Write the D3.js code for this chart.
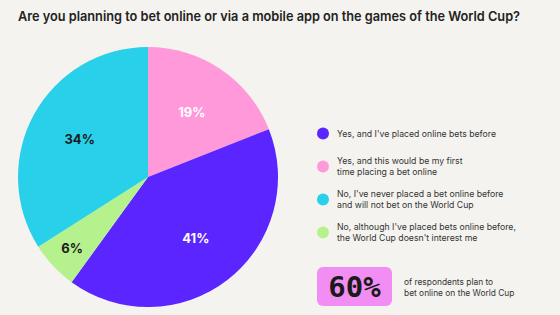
<!DOCTYPE html>
<html>
<head>
<meta charset="utf-8">
<script src="https://cdn.jsdelivr.net/npm/d3@7"></script>
<style>
  html, body { margin: 0; padding: 0; background: #f5f3ef; }
  svg { display: block; font-family: Inter, "Open Sans", sans-serif; }
</style>
</head>
<body>
<div id="chart"></div>
<script>
// data
const answers = [
  "Yes, and I've placed online bets before",
  "Yes, and this would be my first|time placing a bet online",
  "No, I've never placed a bet online before|and will not bet on the World Cup",
  "No, although I've placed bets online before,|the World Cup doesn't interest me",
];
const shares = [41, 19, 34, 6];
const pieOrder = [1, 0, 3, 2]; // clockwise from 12 o'clock: 19, 41, 6, 34
const sliceColors = ["#5b25ff", "#ff99da", "#28d0ea", "#b5f28d"];
const labelColors = ["#ffffff", "#ffffff", "#1c1c1c", "#1c1c1c"];
const highlightValue = "60%";
const highlightText = ["of respondents plan to", "bet online on the World Cup"];

const width = 560, height = 315;
const svg = d3.select("#chart").append("svg")
  .attr("width", width).attr("height", height)
  .attr("viewBox", `0 0 ${width} ${height}`);

svg.append("rect").attr("width", width).attr("height", height).attr("fill", "#f5f3ef");

svg.append("text")
  .attr("x", 18).attr("y", 21)
  .attr("font-size", 13.4).attr("font-weight", 600)
  .attr("textLength", 502).attr("lengthAdjust", "spacingAndGlyphs")
  .attr("fill", "#222")
  .text("Are you planning to bet online or via a mobile app on the games of the World Cup?");

/* ---------- Pie ---------- */
const radius = 130;
const pieG = svg.append("g").attr("transform", "translate(148,177)");

const pie = d3.pie().sort(null).value((i) => shares[i]);
const arcs = pie(pieOrder);

const arc = d3.arc().innerRadius(0).outerRadius(radius);
const labelArc = d3.arc().innerRadius(radius * 0.6).outerRadius(radius * 0.6);
const smallLabelArc = d3.arc().innerRadius(radius * 0.8).outerRadius(radius * 0.8);

pieG.selectAll(".slice")
  .data(arcs)
  .enter()
  .append("path")
  .attr("class", "slice")
  .attr("d", arc)
  .attr("fill", (d) => sliceColors[d.data]);

pieG.selectAll(".slice-label")
  .data(arcs)
  .enter()
  .append("text")
  .attr("class", "slice-label")
  .attr("transform", (d) => {
    const c = (shares[d.data] < 10 ? smallLabelArc : labelArc).centroid(d);
    return `translate(${c[0]},${c[1]})`;
  })
  .attr("text-anchor", "middle")
  .attr("dy", "0.36em")
  .attr("font-size", 13)
  .attr("font-weight", 700)
  .attr("fill", (d) => labelColors[d.data])
  .text((d) => shares[d.data] + "%");

/* ---------- Legend ---------- */
const legendY = d3.scaleBand().domain(d3.range(answers.length)).range([117, 249]);

const legend = svg.append("g").selectAll(".legend-item")
  .data(answers)
  .enter()
  .append("g")
  .attr("class", "legend-item")
  .attr("transform", (d, i) => `translate(323,${legendY(i) + legendY.bandwidth() / 2})`);

legend.append("circle").attr("r", 6).attr("fill", (d, i) => sliceColors[i]);

legend.append("text")
  .attr("x", 14)
  .attr("font-size", 8.7)
  .attr("fill", "#333")
  .each(function (d) {
    const lines = d.split("|");
    const t = d3.select(this);
    lines.forEach((line, j) => {
      t.append("tspan")
        .attr("x", 14)
        .attr("y", (j - (lines.length - 1) / 2) * 11.5)
        .attr("dy", "0.35em")
        .text(line);
    });
  });

/* ---------- Highlight ---------- */
const hl = svg.append("g").attr("transform", "translate(317,267)");
hl.append("rect")
  .attr("width", 75).attr("height", 39).attr("rx", 6)
  .attr("fill", "#f28df4");
hl.append("text")
  .attr("x", 37.5).attr("y", 20).attr("dy", "0.36em")
  .attr("text-anchor", "middle")
  .attr("font-family", "'DejaVu Sans Mono', monospace")
  .attr("font-size", 29).attr("font-weight", 700)
  .attr("fill", "#1a1a1a")
  .text(highlightValue);
hl.selectAll(".hl-text")
  .data(highlightText)
  .enter()
  .append("text")
  .attr("class", "hl-text")
  .attr("x", 87).attr("y", (d, i) => 15 + i * 11)
  .attr("dy", "0.35em")
  .attr("font-size", 8.4).attr("fill", "#333")
  .text((d) => d);
</script>
</body>
</html>
